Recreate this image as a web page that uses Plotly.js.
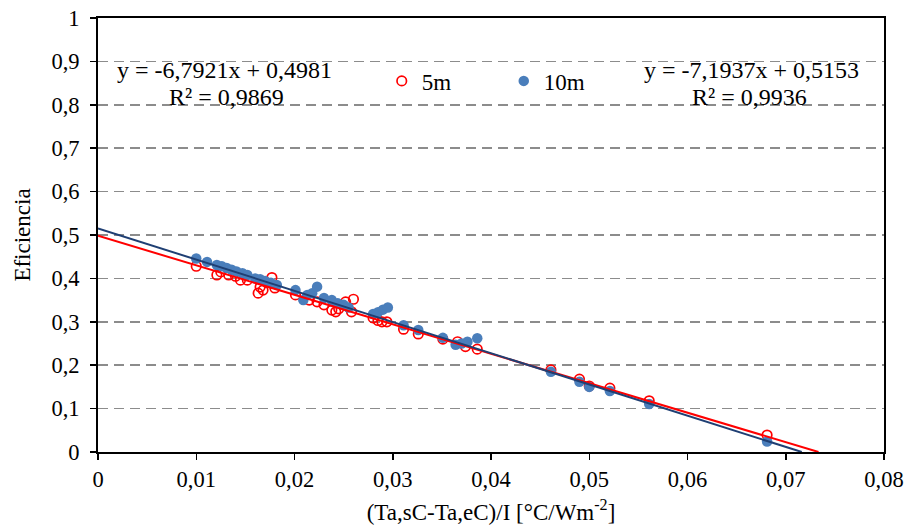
<!DOCTYPE html>
<html>
<head>
<meta charset="utf-8">
<script src="https://cdn.plot.ly/plotly-3.0.1.min.js"></script>
<style>html,body{margin:0;padding:0;background:#fff;}#chart{width:906px;height:525px;}</style>
</head>
<body>
<div id="chart"></div>
<script>
// Series 5m (open red circles)
const x5 = [0.0100, 0.0121, 0.0125, 0.0133, 0.0140, 0.0145, 0.0152, 0.0163, 0.0165, 0.0168, 0.0172, 0.0177, 0.0180, 0.0201, 0.0215, 0.0223, 0.0230, 0.0238, 0.0242, 0.0245, 0.0252, 0.0258, 0.0260, 0.0280, 0.0285, 0.0289, 0.0294, 0.0311, 0.0326, 0.0351, 0.0366, 0.0374, 0.0386, 0.0461, 0.0490, 0.0500, 0.0521, 0.0561, 0.0681];
const y5 = [0.428, 0.408, 0.415, 0.408, 0.405, 0.396, 0.396, 0.366, 0.380, 0.373, 0.390, 0.402, 0.378, 0.362, 0.350, 0.346, 0.339, 0.327, 0.323, 0.330, 0.346, 0.323, 0.352, 0.309, 0.303, 0.300, 0.300, 0.283, 0.272, 0.260, 0.254, 0.243, 0.237, 0.189, 0.168, 0.152, 0.147, 0.118, 0.039];
// Series 10m (filled blue circles)
const x10 = [0.0100, 0.0111, 0.0121, 0.0126, 0.0131, 0.0136, 0.0141, 0.0147, 0.0152, 0.0160, 0.0165, 0.0170, 0.0176, 0.0182, 0.0201, 0.0209, 0.0213, 0.0218, 0.0223, 0.0230, 0.0238, 0.0244, 0.0250, 0.0255, 0.0280, 0.0285, 0.0290, 0.0295, 0.0311, 0.0326, 0.0351, 0.0364, 0.0370, 0.0376, 0.0386, 0.0461, 0.0490, 0.0500, 0.0521, 0.0561, 0.0681];
const y10 = [0.446, 0.438, 0.431, 0.428, 0.424, 0.420, 0.416, 0.412, 0.408, 0.400, 0.398, 0.394, 0.390, 0.385, 0.373, 0.350, 0.362, 0.366, 0.381, 0.355, 0.350, 0.343, 0.339, 0.333, 0.318, 0.322, 0.328, 0.333, 0.292, 0.281, 0.263, 0.247, 0.250, 0.254, 0.262, 0.185, 0.162, 0.150, 0.1405, 0.1106, 0.024];
// Linear trendlines: [5m, 10m]
const slopes = [-6.7921, -7.1937];
const intercepts = [0.4981, 0.5153];
const r2 = [0.9869, 0.9936];
const seriesNames = ['5m', '10m'];
const xTitle = '(Ta,sC-Ta,eC)/I [°C/Wm<sup>-2</sup>]';
const yTitle = 'Eficiencia';

const FONT = 'Liberation Serif, Times New Roman, serif';
const fmt = v => String(v).replace('.', ',');
function trend(i) {
  const xEnd = -intercepts[i] / slopes[i];
  return { x: [0, xEnd], y: [intercepts[i], slopes[i] * xEnd + intercepts[i]] };
}
const t5 = trend(0), t10 = trend(1);

const traces = [
  { x: x5, y: y5, name: seriesNames[0], type: 'scatter', mode: 'markers',
    marker: { symbol: 'circle-open', size: 9.5, color: '#ff0000', line: { width: 1.7, color: '#ff0000' } } },
  { x: x10, y: y10, name: seriesNames[1], type: 'scatter', mode: 'markers',
    marker: { symbol: 'circle', size: 10.5, color: '#4a7ebb' } },
  { x: t5.x, y: t5.y, type: 'scatter', mode: 'lines', showlegend: false, hoverinfo: 'skip',
    line: { color: '#ff0000', width: 2 } },
  { x: t10.x, y: t10.y, type: 'scatter', mode: 'lines', showlegend: false, hoverinfo: 'skip',
    line: { color: '#1f3f73', width: 2 } }
];

const eqLine = i => 'y = ' + fmt(slopes[i]) + 'x + ' + fmt(intercepts[i]);
const r2Line = i => 'R² = ' + fmt(r2[i]);
const annFont = { family: FONT, size: 24, color: '#000' };

const layout = {
  width: 906, height: 525,
  margin: { l: 98, r: 22, t: 18, b: 73 },
  paper_bgcolor: '#ffffff', plot_bgcolor: '#ffffff',
  separators: ',.',
  font: { family: FONT, size: 23, color: '#000000' },
  showlegend: true,
  legend: { orientation: 'h', x: 0.361, y: 0.855, xanchor: 'left', yanchor: 'middle',
    bgcolor: 'rgba(0,0,0,0)', font: { family: FONT, size: 23 }, entrywidth: 77, entrywidthmode: 'pixels' },
  xaxis: {
    range: [0, 0.08], dtick: 0.01, tick0: 0, showgrid: false, zeroline: false,
    showline: true, linecolor: '#000', linewidth: 2, mirror: true,
    ticks: 'outside', ticklen: 6, tickwidth: 1.5, tickcolor: '#000',
    tickfont: { family: FONT, size: 22.5 },
    title: { text: xTitle, font: { family: FONT, size: 23 }, standoff: 16 }
  },
  yaxis: {
    range: [0, 1], dtick: 0.1, tick0: 0, showgrid: true, gridcolor: '#8c8c8c', gridwidth: 1.5, griddash: '10px,6px',
    zeroline: false, showline: true, linecolor: '#000', linewidth: 2, mirror: true,
    ticks: 'outside', ticklen: 6, tickwidth: 1.5, tickcolor: '#000', ticklabelstandoff: 6,
    tickfont: { family: FONT, size: 22.5 },
    title: { text: yTitle, font: { family: FONT, size: 23 }, standoff: 14 }
  },
  annotations: [
    { x: 0.01285, y: 0.880, xref: 'x', yref: 'y', text: eqLine(0), showarrow: false, font: annFont },
    { x: 0.01305, y: 0.818, xref: 'x', yref: 'y', text: r2Line(0), showarrow: false, font: annFont },
    { x: 0.06655, y: 0.880, xref: 'x', yref: 'y', text: eqLine(1), showarrow: false, font: annFont },
    { x: 0.06635, y: 0.818, xref: 'x', yref: 'y', text: r2Line(1), showarrow: false, font: annFont }
  ]
};

Plotly.newPlot('chart', traces, layout, { staticPlot: true, displayModeBar: false });
</script>
</body>
</html>
